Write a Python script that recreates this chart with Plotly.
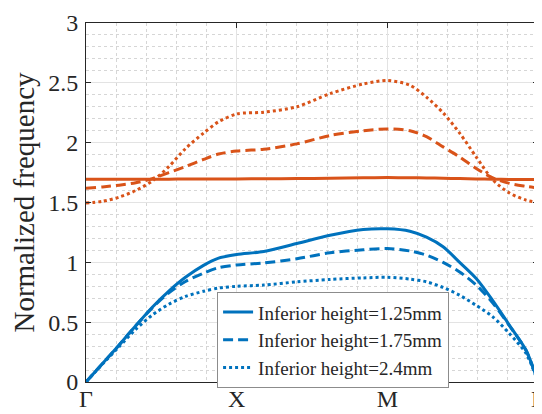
import plotly.graph_objects as go

# k-path positions (Γ=0, X=1, M=2, Γ=3)
k_path = [0, 0.11, 0.22, 0.33, 0.44, 0.55, 0.66, 0.78, 0.88, 1.0, 1.18, 1.40, 1.62, 1.84,
          2.0, 2.15, 2.26, 2.37, 2.48, 2.59, 2.70, 2.81, 2.92, 3.0]

# lower (blue) bands
band1_h125 = [0, 0.155, 0.31, 0.47, 0.625, 0.76, 0.875, 0.975, 1.035, 1.065, 1.09, 1.157, 1.226, 1.274,
              1.28, 1.26, 1.21, 1.13, 1.00, 0.865, 0.68, 0.475, 0.267, 0]
band1_h175 = [0, 0.155, 0.31, 0.47, 0.62, 0.745, 0.84, 0.91, 0.955, 0.978, 0.995, 1.03, 1.08, 1.105,
              1.115, 1.095, 1.06, 1.0, 0.92, 0.81, 0.66, 0.47, 0.265, 0]
band1_h240 = [0, 0.15, 0.295, 0.44, 0.56, 0.65, 0.715, 0.758, 0.785, 0.80, 0.81, 0.837, 0.857, 0.87,
              0.875, 0.86, 0.837, 0.79, 0.725, 0.64, 0.545, 0.405, 0.24, 0]

# upper (orange) bands
band2_h125 = [1.695, 1.695, 1.695, 1.695, 1.695, 1.695, 1.696, 1.696, 1.697, 1.697, 1.698, 1.700,
              1.703, 1.707, 1.708, 1.707, 1.705, 1.703, 1.700, 1.697, 1.695, 1.693, 1.692, 1.692]
band2_h175 = [1.62, 1.63, 1.645, 1.665, 1.70, 1.75, 1.80, 1.86, 1.905, 1.93, 1.945, 1.99, 2.06, 2.10,
              2.115, 2.10, 2.05, 1.965, 1.88, 1.785, 1.705, 1.66, 1.635, 1.62]
band2_h240 = [1.496, 1.51, 1.545, 1.60, 1.68, 1.80, 1.95, 2.08, 2.175, 2.24, 2.255, 2.30, 2.41, 2.49,
              2.52, 2.48, 2.38, 2.25, 2.08, 1.88, 1.69, 1.58, 1.52, 1.50]

tick_vals = [0, 1, 2, 3]
tick_text = ["Γ", "X", "M", "Γ"]
legend_names = ["Inferior height=1.25mm", "Inferior height=1.75mm", "Inferior height=2.4mm"]

BLUE = "#0072BD"
ORANGE = "#D95319"
dashes = ["solid", "10px,5px", "3px,3px"]
SERIF = "Liberation Serif"

fig = go.Figure()
for ys, name, d in zip([band1_h125, band1_h175, band1_h240], legend_names, dashes):
    fig.add_trace(go.Scatter(x=k_path, y=ys, mode="lines", name=name,
                             line=dict(color=BLUE, width=3, dash=d, shape="spline", smoothing=0.8)))
for ys, d in zip([band2_h125, band2_h175, band2_h240], dashes):
    fig.add_trace(go.Scatter(x=k_path, y=ys, mode="lines", showlegend=False,
                             line=dict(color=ORANGE, width=3, dash=d, shape="spline", smoothing=0.8)))

axis_common = dict(
    showline=True, linecolor="#262626", linewidth=1, mirror="ticks",
    ticks="inside", ticklen=5, tickcolor="#262626",
    showgrid=True, gridcolor="#e3e3e3", gridwidth=1,
    zeroline=False, tickfont=dict(family=SERIF, size=24, color="#262626"),
    automargin=False, ticklabeloverflow="allow",
)

# page body has an 8px margin, so the figure is shifted by 8px; margins compensate
fig.update_layout(
    width=534, height=406,
    margin=dict(l=78, r=4, t=15, b=32),
    paper_bgcolor="white", plot_bgcolor="white",
    font=dict(family=SERIF, color="#262626"),
    xaxis=dict(range=[0, 3], tickvals=tick_vals, ticktext=tick_text, ticklabelstandoff=-5,
               minor=dict(dtick=0.2, tick0=0, showgrid=True, gridcolor="#d6d6d6",
                          griddash="dot", gridwidth=1),
               **axis_common),
    yaxis=dict(range=[0, 3], dtick=0.5, tick0=0, ticklabelstandoff=2,
               title=dict(text="Normalized frequency", font=dict(family=SERIF, size=29, color="#262626"),
                          standoff=8),
               minor=dict(dtick=0.1, tick0=0, showgrid=True, gridcolor="#d6d6d6",
                          griddash="dot", gridwidth=1),
               **axis_common),
    legend=dict(x=0.29, y=0.25, xanchor="left", yanchor="top",
                bgcolor="white", bordercolor="#8c8c8c", borderwidth=1,
                font=dict(family=SERIF, size=19, color="#262626"), tracegroupgap=0),
    showlegend=True,
)

fig.write_html("out.html")
